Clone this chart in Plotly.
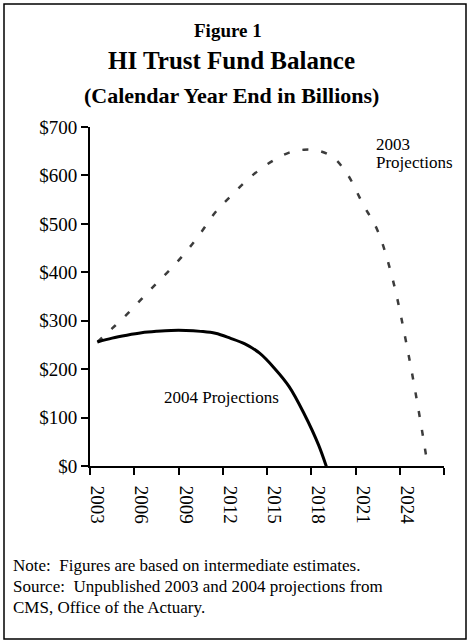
import plotly.graph_objects as go

# HI trust fund balance, calendar year end, $ billions
years_2003 = list(range(2003, 2027))
proj_2003 = [256, 284, 313, 345, 377, 408, 442, 481, 524, 556, 586, 612,
             632, 647, 653, 651, 637, 600, 541, 486, 388, 245, 75, -120]

years_2004 = list(range(2003, 2020))
proj_2004 = [256, 264, 270, 275, 278, 280, 280, 278, 274, 264, 252, 233,
             202, 164, 109, 43, -45]

tick_years = [2003, 2006, 2009, 2012, 2015, 2018, 2021, 2024]
tick_text = [str(y) for y in tick_years]

W, H = 469, 643
L, R, T, B = 90, 25, 127, 177
PW, PH = W - L - R, H - T - B
FONT = "Liberation Serif"


def px(x):
    return (x - L) / PW


def py(y):
    return (H - B - y) / PH


fig = go.Figure()
fig.add_trace(go.Scatter(x=years_2003, y=proj_2003, mode="lines",
                         line=dict(color="#3c3c3c", width=2.5, dash="6px,13px",
                                   shape="spline", smoothing=1.0),
                         hoverinfo="skip", showlegend=False))
fig.add_trace(go.Scatter(x=years_2004, y=proj_2004, mode="lines",
                         line=dict(color="black", width=3,
                                   shape="spline", smoothing=1.0),
                         hoverinfo="skip", showlegend=False))

notes = ["Note:  Figures are based on intermediate estimates.",
         "Source:  Unpublished 2003 and 2004 projections from",
         "CMS, Office of the Actuary."]

annos = [
    dict(text="<b>Figure 1</b>", x=px(228), y=py(30), size=19, xa="center"),
    dict(text="<b>HI Trust Fund Balance</b>", x=px(231), y=py(60), size=25, xa="center"),
    dict(text="<b>(Calendar Year End in Billions)</b>", x=px(231), y=py(96), size=22, xa="center"),
    dict(text="2003", x=px(374), y=py(144), size=17, xa="left"),
    dict(text="Projections", x=px(374), y=py(162), size=17, xa="left"),
    dict(text="2004 Projections", x=px(221), y=py(397), size=17, xa="center"),
]
for i, n in enumerate(notes):
    annos.append(dict(text=n, x=px(11), y=py(565 + 21 * i), size=17, xa="left"))

fig.update_layout(
    annotations=[dict(text=a["text"], x=a["x"], y=a["y"], xref="paper", yref="paper",
                      xanchor=a["xa"], yanchor="middle", showarrow=False,
                      font=dict(family=FONT, size=a["size"], color="black"))
                 for a in annos],
    shapes=[dict(type="rect", xref="paper", yref="paper",
                 x0=px(4), x1=px(466), y0=py(639), y1=py(4),
                 line=dict(color="black", width=1.5))],
)

# labels sit on the years, tick marks sit between the year groups
fig.update_xaxes(range=[2002.5, 2026.5], tickmode="array", tickvals=tick_years,
                 ticktext=tick_text, tickangle=90, ticks="outside", ticklen=14,
                 tickcolor="rgba(0,0,0,0)",
                 showline=True, linecolor="black", linewidth=2,
                 showgrid=False, zeroline=False,
                 tickfont=dict(family=FONT, size=19, color="black"),
                 minor=dict(tickmode="array",
                            tickvals=[y - 0.5 for y in tick_years] + [2026.5],
                            ticks="outside", ticklen=7, tickwidth=2,
                            tickcolor="black", showgrid=False))
fig.update_yaxes(range=[0, 700], dtick=100, tickprefix="$", ticks="outside",
                 ticklen=7, tickwidth=2, tickcolor="black",
                 showline=True, linecolor="black", linewidth=2,
                 showgrid=False, zeroline=False,
                 tickfont=dict(family=FONT, size=19, color="black"))

fig.update_layout(width=W, height=H, margin=dict(l=L, r=R, t=T, b=B),
                  plot_bgcolor="white", paper_bgcolor="white",
                  font=dict(family=FONT, color="black"))

fig.write_html("out.html", config={"displayModeBar": False},
               post_script="document.body.style.margin='0';")
